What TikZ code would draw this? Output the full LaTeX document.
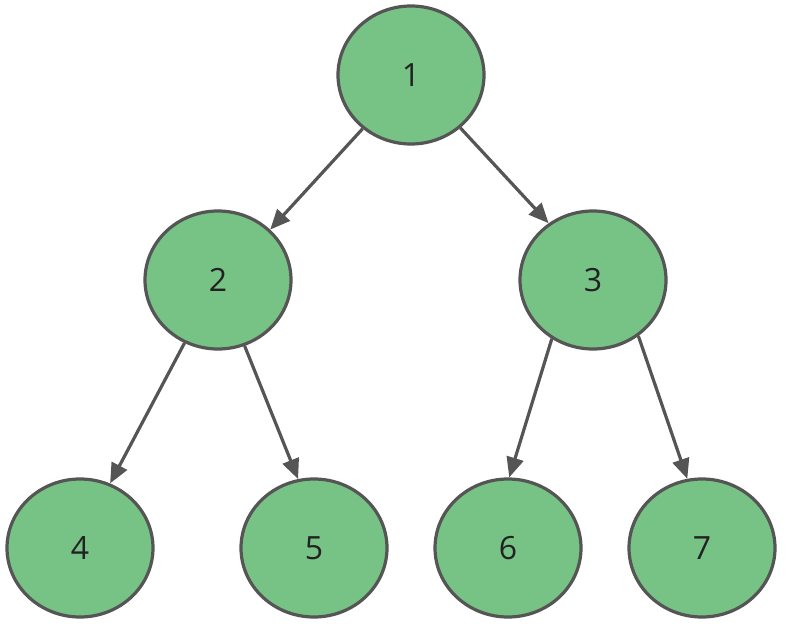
\documentclass[tikz,border=0pt]{standalone}
\usepackage{fontspec}
\setmainfont{Open Sans}
\usetikzlibrary{shapes.geometric,arrows.meta}
\definecolor{nodefill}{HTML}{77C385}
\definecolor{edgegray}{HTML}{555555}
\definecolor{txt}{HTML}{222222}
\begin{document}
\begin{tikzpicture}[x=1pt,y=-1pt,
  treenode/.style={ellipse,draw=edgegray,fill=nodefill,line width=3.2pt,
    minimum width=146pt,minimum height=138pt,inner sep=0pt,
    font=\fontsize{32}{38}\selectfont,text=txt},
  edge/.style={draw=edgegray,line width=3.2pt,-{Triangle[length=20pt,width=17pt]}}]
\useasboundingbox (0,0) rectangle (786,623);
\node[treenode] (n1) at (411,75) {1};
\node[treenode] (n2) at (218,280) {2};
\node[treenode] (n3) at (593,280) {3};
\node[treenode] (n4) at (80,548) {4};
\node[treenode] (n5) at (314,548) {5};
\node[treenode] (n6) at (508,548) {6};
\node[treenode] (n7) at (702,548) {7};
\draw[edge] (n1.-132) -- (n2.44);
\draw[edge] (n1.-47) -- (n3.128);
\draw[edge] (n2.-118) -- (n4.65);
\draw[edge] (n2.-68) -- (n5.103);
\draw[edge] (n3.-125) -- (n6.89);
\draw[edge] (n3.-51) -- (n7.102);
\end{tikzpicture}
\end{document}
